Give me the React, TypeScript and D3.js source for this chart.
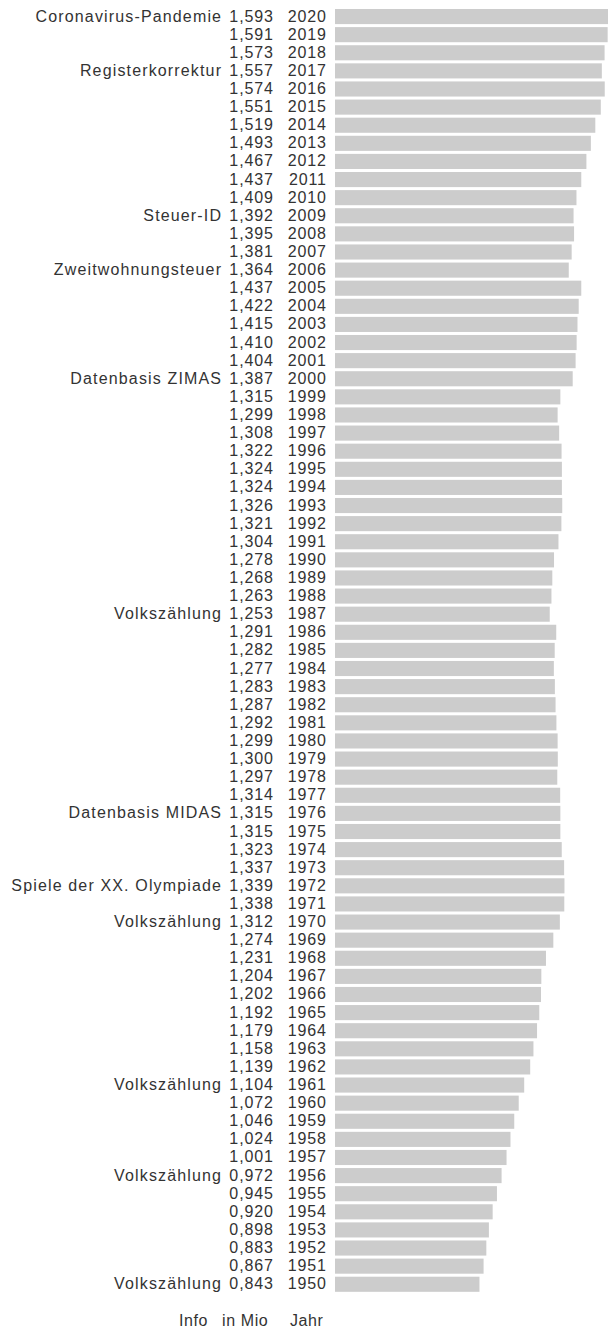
import React from "react";
import * as d3 from "d3";

const years: number[] = [
  2020, 2019, 2018, 2017, 2016, 2015, 2014, 2013, 2012, 2011, 2010, 2009, 2008, 2007, 2006, 2005, 2004, 2003, 2002, 2001, 2000,
  1999, 1998, 1997, 1996, 1995, 1994, 1993, 1992, 1991, 1990, 1989, 1988, 1987, 1986, 1985, 1984, 1983, 1982, 1981, 1980,
  1979, 1978, 1977, 1976, 1975, 1974, 1973, 1972, 1971, 1970, 1969, 1968, 1967, 1966, 1965, 1964, 1963, 1962, 1961, 1960,
  1959, 1958, 1957, 1956, 1955, 1954, 1953, 1952, 1951, 1950,
];

const population: number[] = [
  1.593, 1.591, 1.573, 1.557, 1.574, 1.551, 1.519, 1.493, 1.467, 1.437, 1.409, 1.392, 1.395, 1.381, 1.364, 1.437, 1.422, 1.415, 1.41, 1.404, 1.387,
  1.315, 1.299, 1.308, 1.322, 1.324, 1.324, 1.326, 1.321, 1.304, 1.278, 1.268, 1.263, 1.253, 1.291, 1.282, 1.277, 1.283, 1.287, 1.292, 1.299,
  1.3, 1.297, 1.314, 1.315, 1.315, 1.323, 1.337, 1.339, 1.338, 1.312, 1.274, 1.231, 1.204, 1.202, 1.192, 1.179, 1.158, 1.139, 1.104, 1.072,
  1.046, 1.024, 1.001, 0.972, 0.945, 0.92, 0.898, 0.883, 0.867, 0.843,
];

const infoYears: number[] = [2020, 2017, 2009, 2006, 2000, 1987, 1976, 1972, 1970, 1961, 1956, 1950];
const infoLabels: string[] = [
  "Coronavirus-Pandemie",
  "Registerkorrektur",
  "Steuer-ID",
  "Zweitwohnungsteuer",
  "Datenbasis ZIMAS",
  "Volkszählung",
  "Datenbasis MIDAS",
  "Spiele der XX. Olympiade",
  "Volkszählung",
  "Volkszählung",
  "Volkszählung",
  "Volkszählung",
];

const headers: string[] = ["Info", "in Mio", "Jahr"];

const W = 608;
const H = 1328;
const barX0 = 335;
const labelRight = 221;
const valueRight = 273;
const yearRight = 326;
const font = "'Liberation Sans', Arial, sans-serif";
const textColor = "#333";

export default function App() {
  const x = d3.scaleLinear().domain([0, 1.593]).range([0, 273]);
  const y = d3
    .scaleBand<number>()
    .domain(years)
    .range([7.5, 7.5 + years.length * 18.11])
    .paddingInner(0.166)
    .paddingOuter(0.083);
  const fmt = (v: number) => d3.format(".3f")(v).replace(".", ",");
  const labelMap = new Map<number, string>(infoYears.map((yr, i) => [yr, infoLabels[i]]));
  const headerStart = [179, 222, 290];

  return (
    <svg
      width={W}
      height={H}
      style={{ position: "absolute", left: 0, top: 0, display: "block" }}
      fontFamily={font}
      fontSize={16}
    >
      <rect width={W} height={H} fill="#fff" />
      {years.map((yr, i) => {
        const top = y(yr) as number;
        const bw = y.bandwidth();
        const base = top + bw / 2 + 5;
        const lbl = labelMap.get(yr);
        return (
          <g key={yr}>
            <rect x={barX0} y={top} width={x(population[i])} height={bw} fill="#cccccc" />
            {lbl && (
              <text x={labelRight + 1.15} y={base} textAnchor="end" fill={textColor} letterSpacing={1.15}>
                {lbl}
              </text>
            )}
            <text x={valueRight + 0.9} y={base} textAnchor="end" fill={textColor} letterSpacing={0.9}>
              {fmt(population[i])}
            </text>
            <text x={yearRight + 0.9} y={base} textAnchor="end" fill={textColor} letterSpacing={0.9}>
              {yr}
            </text>
          </g>
        );
      })}
      {headers.map((h, i) => (
        <text key={h} x={headerStart[i]} y={1326} textAnchor="start" fill={textColor} letterSpacing={0.6}>
          {h}
        </text>
      ))}
    </svg>
  );
}
